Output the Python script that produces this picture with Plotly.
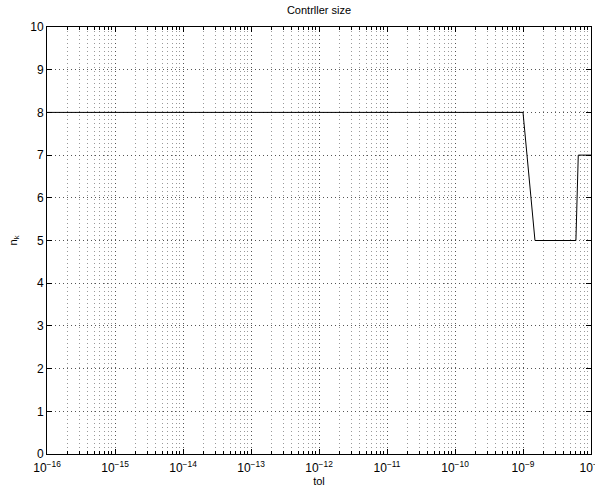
import plotly.graph_objects as go

tol = [1e-16, 1e-9, 1.5e-9, 6.0e-9, 6.5e-9, 1e-8]
nk = [8, 8, 5, 5, 7, 7]

xtick_vals = [10.0 ** e for e in range(-16, -7)]
xtick_text = ["10<sup>\u2212%d</sup>" % (-e) for e in range(-16, -7)]
ytick_vals = list(range(0, 11))

font = dict(family="Liberation Sans, Arial, sans-serif", size=11, color="black")

fig = go.Figure()
fig.add_trace(go.Scatter(x=tol, y=nk, mode="lines",
                         line=dict(color="black", width=1), showlegend=False))

fig.update_layout(
    width=595, height=489,
    margin=dict(l=47, r=4, t=27, b=35, autoexpand=False),
    paper_bgcolor="white", plot_bgcolor="white",
    font=font,
    title=dict(text="Contrller size", x=0.5, xref="paper", y=1, yref="container",
               yanchor="top", pad=dict(t=6), font=dict(size=11)),
    xaxis=dict(
        type="log", range=[-16, -8], automargin=False,
        tickvals=xtick_vals, ticktext=xtick_text,
        ticklabeloverflow="allow", ticklabelstandoff=3,
        ticks="inside", ticklen=5, tickcolor="black",
        showline=True, linecolor="black", linewidth=1, mirror="allticks",
        showgrid=True, gridcolor="#555", griddash="1px,3px", gridwidth=1,
        minor=dict(dtick="D1", ticks="inside", ticklen=3, tickcolor="black",
                   showgrid=True, gridcolor="#999", griddash="1px,3px", gridwidth=1),
        zeroline=False,
        title=dict(text="tol", standoff=0, font=dict(size=11)),
        tickfont=dict(size=12),
    ),
    yaxis=dict(
        range=[0, 10], tickvals=ytick_vals, automargin=False,
        ticks="inside", ticklen=5, tickcolor="black",
        showline=True, linecolor="black", linewidth=1, mirror="allticks",
        showgrid=True, gridcolor="#555", griddash="1px,3px", gridwidth=1,
        zeroline=False,
        title=dict(text="n<sub>k</sub>", standoff=10, font=dict(size=11)),
        tickfont=dict(size=12),
    ),
)

fig.write_html("out.html")
